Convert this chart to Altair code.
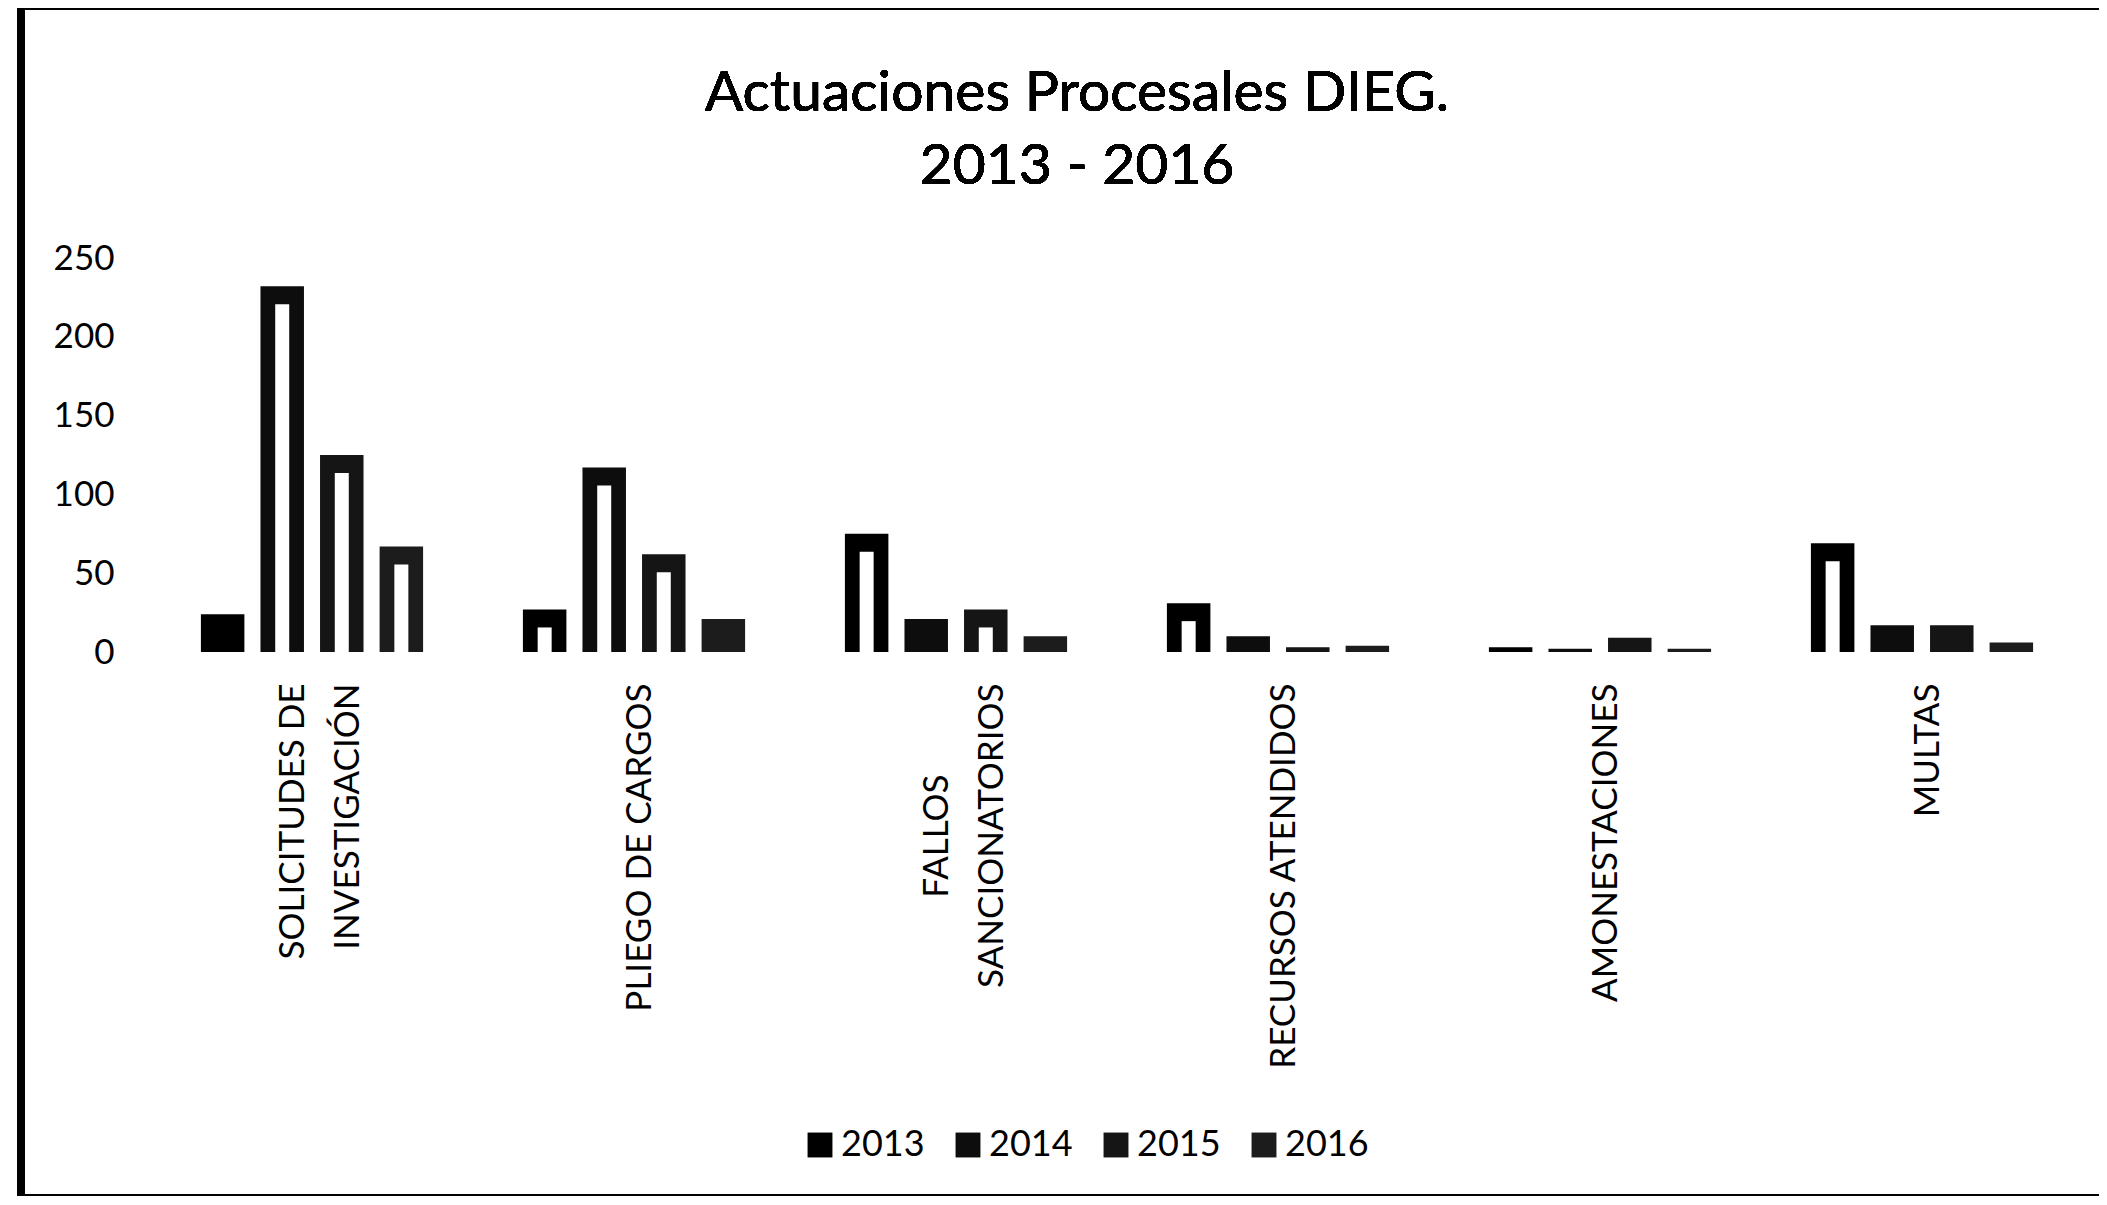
import altair as alt
import pandas as pd

# ---- data ----
categories = [
    "SOLICITUDES DE|INVESTIGACIÓN",
    "PLIEGO DE CARGOS",
    "FALLOS|SANCIONATORIOS",
    "RECURSOS ATENDIDOS",
    "AMONESTACIONES",
    "MULTAS",
]
years = ["2013", "2014", "2015", "2016"]
v2013 = [24, 27, 75, 31, 3, 69]
v2014 = [232, 117, 21, 10, 2, 17]
v2015 = [125, 62, 27, 3, 9, 17]
v2016 = [67, 21, 10, 4, 2, 6]
title_lines = ["Actuaciones Procesales DIEG.", "2013 - 2016"]

series = {"2013": v2013, "2014": v2014, "2015": v2015, "2016": v2016}
rows = []
for y in years:
    for c, v in zip(categories, series[y]):
        rows.append({"categoria": c, "anio": y, "valor": v})
df = pd.DataFrame(rows)

# the short line "FALLOS" is drawn centred over "SANCIONATORIOS"
centred_df = pd.DataFrame([{"categoria": "FALLOS|SANCIONATORIOS", "linea": "FALLOS"}])

FONT = "Lato"
W, H = 1932, 394

label_expr = (
    "indexof(datum.label, 'FALLOS') >= 0 ? ['', 'SANCIONATORIOS'] : "
    "split(datum.label, '|')"
)

x_enc = alt.X(
    "categoria:N",
    sort=categories,
    scale=alt.Scale(paddingInner=0.31, paddingOuter=0.155),
    axis=alt.Axis(
        title=None,
        labelAngle=270,
        labelAlign="right",
        labelBaseline="middle",
        labelExpr=label_expr,
        labelOffset={"condition": {"test": "indexof(datum.label, '|') >= 0", "value": -19}, "value": 6},
        labelFont=FONT,
        labelFontSize=35,
        labelLineHeight=55,
        labelColor="#000000",
        labelPadding=31,
        labelLimit=1000,
        domain=False,
        ticks=False,
    ),
)
xoff_enc = alt.XOffset("anio:N", sort=years, scale=alt.Scale(paddingInner=0.27))
y_enc = alt.Y(
    "valor:Q",
    scale=alt.Scale(domain=[0, 250], nice=False),
    axis=alt.Axis(
        title=None,
        values=[0, 50, 100, 150, 200, 250],
        grid=False,
        domain=False,
        ticks=False,
        labelFont=FONT,
        labelFontSize=35,
        labelColor="#000000",
        labelPadding=37,
    ),
)

bars = alt.Chart(df).mark_bar(color="#000000").encode(
    x=x_enc,
    xOffset=xoff_enc,
    y=y_enc,
    color=alt.Color(
        "anio:N",
        sort=years,
        scale=alt.Scale(domain=years, range=["#000000", "#0d0d0d", "#151515", "#1c1c1c"]),
        legend=alt.Legend(
            title=None,
            orient="none",
            legendX=651,
            legendY=869,
            direction="horizontal",
            symbolType="square",
            symbolSize=620,
            symbolStrokeWidth=0,
            labelFont=FONT,
            labelFontSize=36,
            labelColor="#000000",
            labelOffset=3,
            columnPadding=25,
        ),
    ),
)

inner = (
    alt.Chart(df)
    .transform_filter("datum.valor >= 25")
    .mark_bar(color="#ffffff", width=14, yOffset=18, y2Offset=-36)
    .encode(x=x_enc, xOffset=xoff_enc, y=y_enc)
)

centred_label = alt.Chart(centred_df).mark_text(
    font=FONT, fontSize=35, color="#000000", angle=270,
    align="center", baseline="middle", xOffset=-19,
).encode(
    x=alt.X("categoria:N", sort=categories),
    y=alt.value(578),
    text="linea:N",
)

# chart title drawn as text (two centred lines)
title1 = alt.Chart(df).mark_text(
    font=FONT, fontSize=57, color="#000000", align="center", baseline="middle"
).encode(x=alt.value(926), y=alt.value(-164), text=alt.value(title_lines[0]))
title2 = alt.Chart(df).mark_text(
    font=FONT, fontSize=57, color="#000000", align="center", baseline="middle"
).encode(x=alt.value(926), y=alt.value(-91), text=alt.value(title_lines[1]))

# scanned page frame (decoration)
frame_left = alt.Chart(df).mark_rule(color="#000000", strokeWidth=8).encode(
    x=alt.value(-130), y=alt.value(-252), y2=alt.value(937)
)
frame_top = alt.Chart(df).mark_rule(color="#000000", strokeWidth=7).encode(
    x=alt.value(-134), x2=alt.value(1990), y=alt.value(-252)
)
frame_bottom = alt.Chart(df).mark_rule(color="#000000", strokeWidth=2).encode(
    x=alt.value(-134), x2=alt.value(1990), y=alt.value(937)
)

chart = (
    alt.layer(bars, inner, centred_label, title1, title2, frame_left, frame_top, frame_bottom)
    .properties(
        width=W,
        height=H,
        background="#ffffff",
        autosize=alt.AutoSizeParams(type="none"),
        padding={"left": 143, "top": 250, "right": 16, "bottom": 545},
    )
    .configure_view(stroke="transparent", strokeWidth=0)
)

chart.save("out.html", embed_options={"renderer": "svg", "actions": False})
